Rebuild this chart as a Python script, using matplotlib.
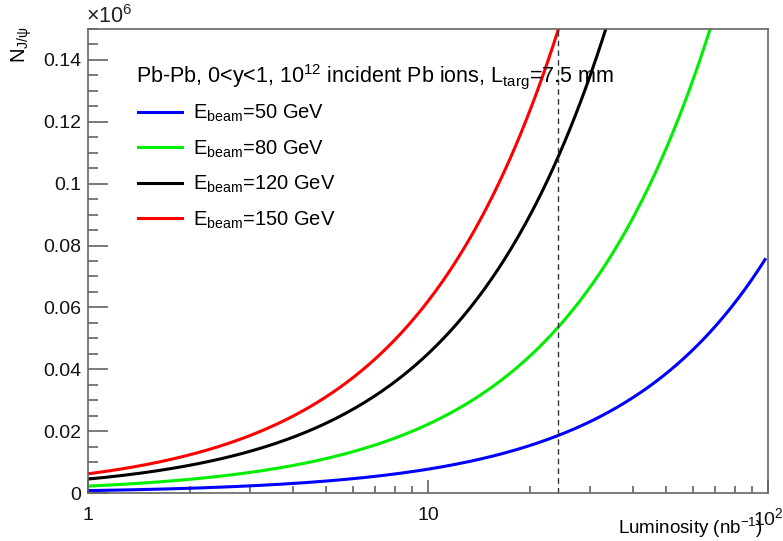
import numpy as np
import matplotlib
matplotlib.use('Agg')
import matplotlib.pyplot as plt
from matplotlib.ticker import FixedLocator, NullFormatter

plt.rcParams['font.family'] = ['Liberation Sans', 'DejaVu Sans']
plt.rcParams['mathtext.default'] = 'regular'

# J/psi yield per unit luminosity (x10^6 per nb^-1) for each beam energy
beam_energies = [50, 80, 120, 150]
yield_per_nb = [0.00077, 0.00222, 0.0045, 0.0062]
line_colors = ['#0000ff', '#00ee00', '#000000', '#ff0000']

lumi_min, lumi_max = 1.0, 98.0
lumi_marker = 24.2          # dashed reference luminosity
y_ticks = [0, 0.02, 0.04, 0.06, 0.08, 0.1, 0.12, 0.14]
y_tick_labels = ['0', '0.02', '0.04', '0.06', '0.08', '0.1', '0.12', '0.14']

fig = plt.figure(figsize=(7.83, 5.41), dpi=100)
ax = fig.add_axes([88 / 783, 1 - 493 / 541, 680 / 783, 464 / 541])

lumi = np.logspace(np.log10(lumi_min), np.log10(lumi_max), 500)
for e, k, c in zip(beam_energies, yield_per_nb, line_colors):
    ax.plot(lumi, k * lumi, color=c, lw=2.2,
            label=r'E$_{beam}$=%d GeV' % e)

ax.axvline(lumi_marker, color='#333333', lw=1.0, ls=(0, (4, 3)))

ax.set_xscale('log')
ax.set_xlim(1, 100)
ax.set_ylim(0, 0.15)

# axis styling
for side in ['left', 'bottom', 'right', 'top']:
    ax.spines[side].set_color('#666666')
    ax.spines[side].set_linewidth(1.2)

ax.xaxis.set_major_locator(FixedLocator([1, 10, 100]))
ax.set_xticklabels(['1', '10', '$10^{2}$'])
ax.xaxis.set_minor_locator(FixedLocator(
    [m * d for d in (1, 10) for m in range(2, 10)]))
ax.xaxis.set_minor_formatter(NullFormatter())

ax.yaxis.set_major_locator(FixedLocator(y_ticks))
ax.set_yticklabels(y_tick_labels)
ax.yaxis.set_minor_locator(FixedLocator(np.arange(0, 0.1501, 0.005)))

ax.tick_params(axis='both', which='both', direction='in', color='#555555',
               width=1.1, labelsize=14, labelcolor='#111111')
ax.tick_params(axis='y', which='major', length=14.4, pad=5)
ax.tick_params(axis='y', which='minor', length=7.2)
ax.tick_params(axis='x', which='major', length=9.5, pad=10)
ax.tick_params(axis='x', which='minor', length=5)

# labels
fig.text(86 / 783, 1 - 17 / 541, r'$\times10^{6}$', fontsize=15.5,
         ha='left', va='center', color='#222222')
fig.text(22 / 783, 1 - 45 / 541, r'N$_{J/\psi}$', fontsize=14.5,
         rotation=90, ha='center', va='center')
fig.text(763 / 783, 1 - 528 / 541, r'Luminosity (nb$^{-1}$)', fontsize=13.5,
         ha='right', va='center')

ax.text(136 / 783, 1 - 77 / 541,
        r'Pb-Pb, 0<y<1, 10$^{12}$ incident Pb ions, L$_{targ}$=7.5 mm',
        transform=fig.transFigure, fontsize=15.5, ha='left', va='center')

leg = ax.legend(loc='upper left', bbox_to_anchor=(130 / 783, 1 - 95 / 541),
                bbox_transform=fig.transFigure, frameon=False, fontsize=14.5,
                handlelength=2.2, handletextpad=0.55, labelspacing=0.7,
                borderaxespad=0)

fig.savefig('out.png', dpi=100)
